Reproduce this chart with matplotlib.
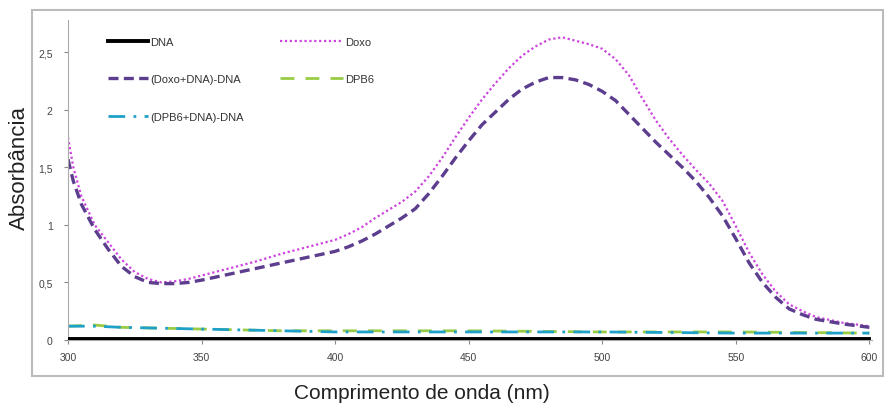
import matplotlib
matplotlib.use("Agg")
import matplotlib.pyplot as plt
from matplotlib.patches import Rectangle

# wavelength grid (nm) for the Doxo curves
wl = [300, 302, 305, 310, 315, 320, 325, 330, 335, 340, 345, 350, 360, 370, 380, 390, 400,
      405, 410, 415, 420, 425, 430, 435, 440, 445, 450, 455, 460, 465, 470, 475, 480, 485,
      490, 495, 500, 505, 510, 515, 520, 525, 530, 535, 540, 545, 550, 555, 560, 565, 570,
      575, 580, 590, 600]

doxo = [1.76, 1.50, 1.25, 1.00, 0.85, 0.70, 0.59, 0.53, 0.50, 0.51, 0.53, 0.56, 0.62, 0.68, 0.75, 0.81, 0.87,
        0.92, 0.98, 1.06, 1.13, 1.20, 1.29, 1.42, 1.58, 1.76, 1.93, 2.09, 2.23, 2.36, 2.47, 2.55, 2.61, 2.63,
        2.60, 2.57, 2.53, 2.44, 2.30, 2.10, 1.91, 1.75, 1.61, 1.48, 1.36, 1.21, 0.99, 0.76, 0.57, 0.42, 0.31,
        0.25, 0.20, 0.15, 0.12]

doxo_dna = [1.57, 1.38, 1.18, 0.96, 0.79, 0.64, 0.55, 0.50, 0.49, 0.49, 0.50, 0.52, 0.57, 0.62, 0.67, 0.72, 0.77,
            0.81, 0.86, 0.92, 0.99, 1.06, 1.14, 1.27, 1.42, 1.58, 1.73, 1.87, 1.98, 2.09, 2.18, 2.24, 2.28, 2.28,
            2.26, 2.22, 2.16, 2.08, 1.96, 1.84, 1.72, 1.61, 1.50, 1.38, 1.24, 1.08, 0.88, 0.67, 0.50, 0.37, 0.27,
            0.22, 0.18, 0.14, 0.11]

# low-absorbance series
wl_low = [300, 310, 320, 340, 360, 380, 400, 450, 500, 550, 600]
dna = [0.01, 0.01, 0.01, 0.01, 0.01, 0.01, 0.01, 0.01, 0.01, 0.01, 0.01]
dpb6 = [0.12, 0.13, 0.11, 0.10, 0.09, 0.08, 0.08, 0.08, 0.07, 0.07, 0.06]
dpb6_dna = [0.12, 0.12, 0.11, 0.10, 0.09, 0.08, 0.07, 0.07, 0.07, 0.06, 0.06]

yticks = [0, 0.5, 1, 1.5, 2, 2.5]
ytick_labels = ["0", "0,5", "1", "1,5", "2", "2,5"]
xticks = [300, 350, 400, 450, 500, 550, 600]

plt.rcParams['font.family'] = ['Liberation Sans', 'DejaVu Sans']

fig = plt.figure(figsize=(8.85, 4.1), dpi=100)
fig.patches.append(Rectangle((32 / 885, 33 / 410), 851 / 885, 366 / 410,
                             transform=fig.transFigure, fill=False,
                             edgecolor='#BBBBBB', lw=1.5))

ax = fig.add_axes([68 / 885, 69 / 410, 804 / 885, 320 / 410])

l_dna, = ax.plot(wl_low, dna, color='black', lw=2.8, label='DNA', zorder=5)
l_doxo, = ax.plot(wl, doxo, color='#CC44DD', lw=1.6, linestyle=(0, (1, 1.2)), label='Doxo')
l_dd, = ax.plot(wl, doxo_dna, color='#5C3D8E', lw=2.4, linestyle=(0, (3, 1.6)),
                label='(Doxo+DNA)-DNA')
l_dpb, = ax.plot(wl_low, dpb6, color='#99CC44', lw=2, linestyle=(0, (5, 4)), label='DPB6')
l_dpbd, = ax.plot(wl_low, dpb6_dna, color='#1FA0C8', lw=2, linestyle=(0, (6, 3, 1, 3)),
                  label='(DPB6+DNA)-DNA')

ax.set_xlim(300, 601)
ax.set_ylim(0, 2.78)
ax.set_xticks(xticks)
ax.set_xticklabels([str(x) for x in xticks])
ax.set_yticks(yticks)
ax.set_yticklabels(ytick_labels)
ax.tick_params(labelsize=7.5, colors='#888888', labelcolor='#444444', length=3)
ax.tick_params(axis='y', pad=8)
ax.tick_params(axis='x', pad=5.5)
for s in ['top', 'right']:
    ax.spines[s].set_visible(False)
for s in ['left', 'bottom']:
    ax.spines[s].set_color('#AAAAAA')

leg1 = ax.legend(handles=[l_dna, l_dd, l_dpbd], loc='upper left',
                 bbox_to_anchor=(102 / 885, 1 - 32 / 410), bbox_transform=fig.transFigure,
                 frameon=False, fontsize=8, handlelength=3.6, labelspacing=2.5,
                 borderpad=0, handletextpad=0.2, labelcolor='#333333')
ax.add_artist(leg1)
ax.legend(handles=[l_doxo, l_dpb], loc='upper left',
          bbox_to_anchor=(274 / 885, 1 - 32 / 410), bbox_transform=fig.transFigure,
          frameon=False, fontsize=8, handlelength=5.7, labelspacing=2.5,
          borderpad=0, handletextpad=0.2, labelcolor='#333333')

fig.text(19 / 885, 1 - 168 / 410, 'Absorbância', rotation=90, fontsize=16,
         ha='center', va='center', color='#222222')
fig.text(422 / 885, 1 - 394 / 410, 'Comprimento de onda (nm)', fontsize=15,
         ha='center', va='center', color='#222222')

fig.savefig('out.png', dpi=100)
